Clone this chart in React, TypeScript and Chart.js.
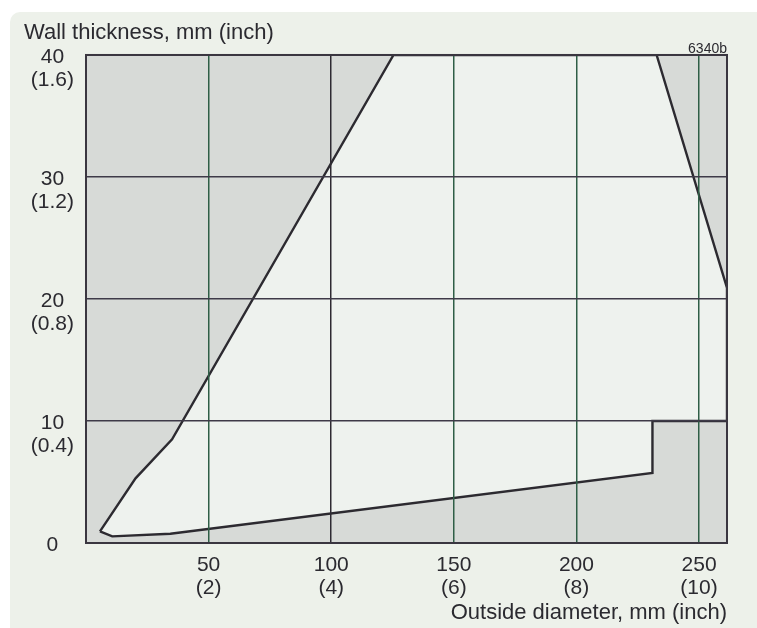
import React, { useEffect, useRef } from 'react';
import { Chart, registerables } from 'chart.js';

Chart.register(...registerables);

// ---- data ----
const xTickValues = [50, 100, 150, 200, 250];
const xTickInch = ['(2)', '(4)', '(6)', '(8)', '(10)'];
const yTickValues = [0, 10, 20, 30, 40];
const yTickInch = ['', '(0.4)', '(0.8)', '(1.2)', '(1.6)'];
// outline of the feasible (unshaded) region: outside diameter (mm) / wall thickness (mm)
const boundaryOD = [5.7, 10.7, 34.4, 231, 231, 261.4, 261.4, 232.7, 125.4, 35.1, 20.2, 5.7];
const boundaryWall = [0.95, 0.54, 0.76, 5.74, 10, 10, 20.9, 40, 40, 8.5, 5.3, 0.95];
const xMin = 0;
const xMax = 261.4;
const yMin = 0;
const yMax = 40;
const yAxisTitle = 'Wall thickness, mm (inch)';
const xAxisTitle = 'Outside diameter, mm (inch)';
const figureCode = '6340b';

const FONT = "'Liberation Sans', Arial, Helvetica, sans-serif";
const TEXT = '#2b2a30';

export default function App() {
  const ref = useRef<HTMLCanvasElement>(null);

  useEffect(() => {
    if (!ref.current) return;
    const points = boundaryOD.map((x, i) => ({ x, y: boundaryWall[i] }));

    const plotBg = {
      id: 'plotBg',
      beforeDatasetsDraw(chart: any) {
        const { ctx, chartArea } = chart;
        ctx.save();
        ctx.fillStyle = '#d7dad7';
        ctx.fillRect(chartArea.left, chartArea.top, chartArea.width, chartArea.height);
        ctx.restore();
      },
    };
    const frame = {
      id: 'frame',
      afterDraw(chart: any) {
        const { ctx, chartArea } = chart;
        ctx.save();
        ctx.strokeStyle = '#3a3640';
        ctx.lineWidth = 2;
        ctx.strokeRect(chartArea.left, chartArea.top, chartArea.width, chartArea.height);
        ctx.restore();
      },
    };

    const chart = new Chart(ref.current, {
      type: 'scatter',
      data: {
        datasets: [
          {
            data: points,
            showLine: true,
            fill: 'shape',
            backgroundColor: '#eef2ee',
            borderColor: '#2c2a30',
            borderWidth: 2.4,
            pointRadius: 0,
            tension: 0,
          } as any,
        ],
      },
      options: {
        animation: false,
        responsive: false,
        devicePixelRatio: 1,
        layout: { padding: { left: 24, right: 30, top: 0, bottom: 0 } },
        plugins: {
          legend: { display: false },
          tooltip: { enabled: false },
          title: {
            display: true,
            text: yAxisTitle,
            align: 'start',
            color: TEXT,
            font: { family: FONT, size: 22, weight: 'normal', lineHeight: 1 },
            padding: { top: 21.5, bottom: 0 },
          },
          subtitle: {
            display: true,
            text: figureCode,
            align: 'end',
            color: TEXT,
            font: { family: FONT, size: 14, weight: 'normal', lineHeight: 0.82 },
            padding: { top: 0, bottom: 0 },
          },
        },
        scales: {
          x: {
            type: 'linear',
            min: xMin,
            max: xMax,
            afterBuildTicks: (s: any) => {
              s.ticks = xTickValues.map((v) => ({ value: v }));
            },
            afterFit: (s: any) => {
              s.height = 85;
            },
            grid: {
              color: (c: any) => (c.tick && c.tick.value === 100 ? '#2e2a32' : '#2f5e46'),
              lineWidth: 1.5,
              drawTicks: false,
              z: 1,
            },
            border: { display: true, color: '#3a3640', width: 2, z: 2 },
            ticks: {
              autoSkip: false,
              maxRotation: 0,
              padding: 11,
              color: TEXT,
              font: { family: FONT, size: 21, lineHeight: 1.1 },
              callback: (v: any) => [String(v), xTickInch[xTickValues.indexOf(Number(v))] ?? ''],
            },
            title: {
              display: true,
              text: xAxisTitle,
              align: 'end',
              color: TEXT,
              font: { family: FONT, size: 22, lineHeight: 1.2 },
              padding: { top: 0, bottom: 2 },
            },
          },
          y: {
            type: 'linear',
            min: yMin,
            max: yMax,
            afterBuildTicks: (s: any) => {
              s.ticks = yTickValues.map((v) => ({ value: v }));
            },
            afterFit: (s: any) => {
              s.width = 62;
            },
            grid: {
              color: '#3e3a48',
              lineWidth: 1.5,
              drawTicks: false,
              z: 1,
            },
            border: { display: true, color: '#3a3640', width: 2, z: 2 },
            ticks: {
              padding: 12,
              crossAlign: 'center',
              labelOffset: 14,
              color: TEXT,
              font: { family: FONT, size: 21, lineHeight: 1.1 },
              callback: (v: any) => [String(v), yTickInch[yTickValues.indexOf(Number(v))] ?? ''],
            },
          },
        },
      },
      plugins: [plotBg, frame],
    } as any);

    return () => chart.destroy();
  }, []);

  return (
    <div style={{ position: 'fixed', left: 0, top: 0, width: 757, height: 628, background: '#ffffff' }}>
      <div
        style={{
          position: 'absolute',
          left: 10,
          top: 12,
          right: 0,
          bottom: 0,
          background: '#edf1ea',
          borderTopLeftRadius: 10,
        }}
      />
      <canvas
        ref={ref}
        width={757}
        height={628}
        style={{ position: 'absolute', left: 0, top: 0, width: 757, height: 628, display: 'block' }}
      />
    </div>
  );
}
